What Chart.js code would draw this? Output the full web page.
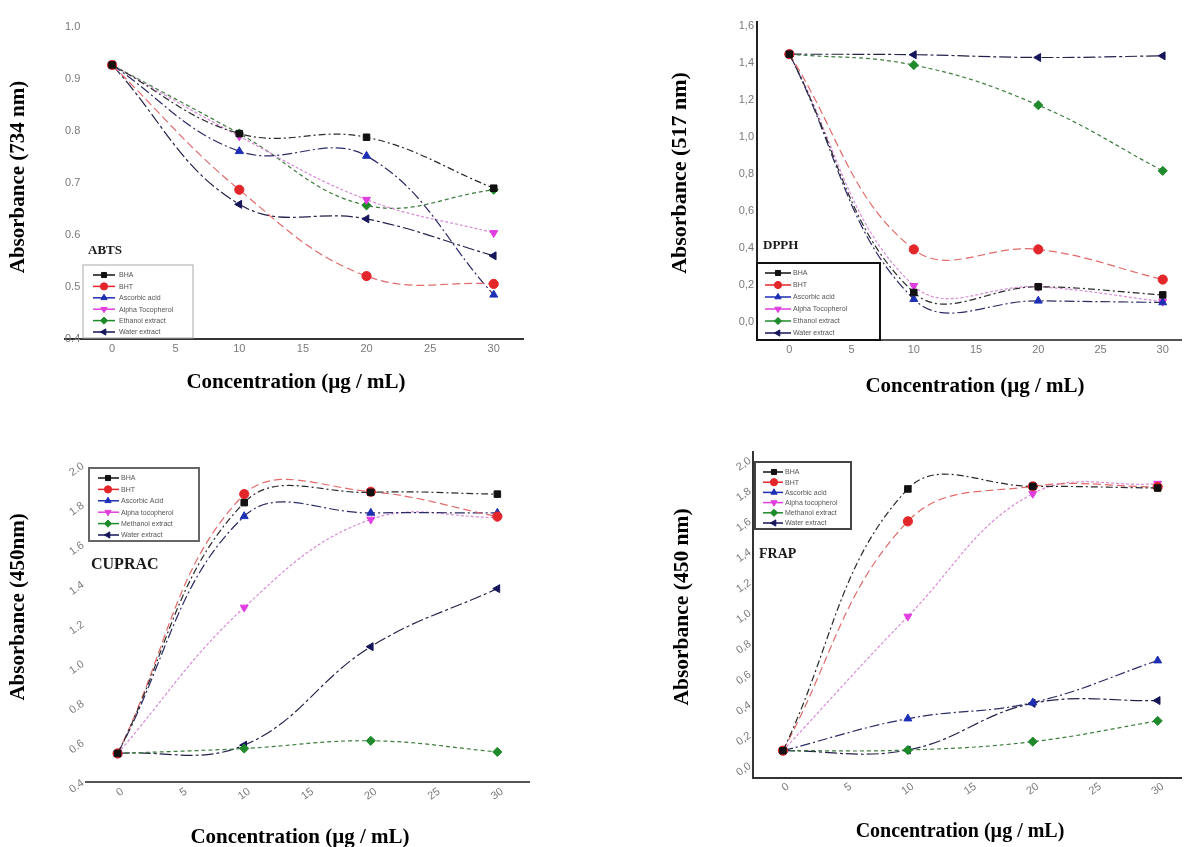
<!DOCTYPE html>
<html>
<head>
<meta charset="utf-8">
<script src="https://cdn.jsdelivr.net/npm/chart.js@4.4.0/dist/chart.umd.min.js"></script>
<style>
body{margin:0;background:#fff;width:1187px;height:847px;position:relative;overflow:hidden}
canvas{position:absolute}
</style>
</head>
<body>
<canvas id="abts" width="593" height="423" style="left:0;top:0"></canvas>
<canvas id="dpph" width="594" height="423" style="left:593px;top:0"></canvas>
<canvas id="cuprac" width="593" height="424" style="left:0;top:423px"></canvas>
<canvas id="frap" width="594" height="424" style="left:593px;top:423px"></canvas>
<script>
// concentrations (µg / mL) and x tick labels
var conc = [0, 10, 20, 30];
var xTicks = [0, 5, 10, 15, 20, 25, 30];

// ABTS
var abtsNames = ['BHA', 'BHT', 'Ascorbic acid', 'Alpha Tocopherol', 'Ethanol extract', 'Water extract'];
var abtsBha = [0.927, 0.795, 0.788, 0.690];
var abtsBht = [0.927, 0.687, 0.521, 0.506];
var abtsAscorbic = [0.927, 0.761, 0.752, 0.485];
var abtsAlpha = [0.927, 0.790, 0.668, 0.604];
var abtsExtract = [0.927, 0.795, 0.657, 0.687];
var abtsWater = [0.927, 0.659, 0.631, 0.560];
var abtsYTicks = [0.4, 0.5, 0.6, 0.7, 0.8, 0.9, 1.0];

// DPPH
var dpphNames = ['BHA', 'BHT', 'Ascorbic acid', 'Alpha Tocopherol', 'Ethanol extract', 'Water extract'];
var dpphBha = [1.446, 0.157, 0.188, 0.144];
var dpphBht = [1.446, 0.390, 0.390, 0.227];
var dpphAscorbic = [1.446, 0.121, 0.112, 0.103];
var dpphAlpha = [1.446, 0.193, 0.188, 0.108];
var dpphExtract = [1.446, 1.387, 1.170, 0.815];
var dpphWater = [1.446, 1.443, 1.428, 1.437];
var dpphYTicks = [0, 0.2, 0.4, 0.6, 0.8, 1.0, 1.2, 1.4, 1.6];

// CUPRAC
var cupracNames = ['BHA', 'BHT', 'Ascorbic Acid', 'Alpha tocopherol', 'Methanol extract', 'Water extract'];
var cupracBha = [0.544, 1.810, 1.862, 1.853];
var cupracBht = [0.544, 1.853, 1.865, 1.740];
var cupracAscorbic = [0.544, 1.741, 1.758, 1.758];
var cupracAlpha = [0.544, 1.281, 1.725, 1.736];
var cupracExtract = [0.544, 0.569, 0.608, 0.552];
var cupracWater = [0.544, 0.586, 1.083, 1.376];
var cupracYTicks = [0.4, 0.6, 0.8, 1.0, 1.2, 1.4, 1.6, 1.8, 2.0];

// FRAP
var frapNames = ['BHA', 'BHT', 'Ascorbic acid', 'Alpha tocopherol', 'Methanol extract', 'Water extract'];
var frapBha = [0.094, 1.808, 1.825, 1.814];
var frapBht = [0.094, 1.596, 1.825, 1.821];
var frapAscorbic = [0.094, 0.304, 0.409, 0.684];
var frapAlpha = [0.094, 0.973, 1.777, 1.843];
var frapExtract = [0.094, 0.098, 0.153, 0.289];
var frapWater = [0.094, 0.098, 0.404, 0.422];
var frapYTicks = [0, 0.2, 0.4, 0.6, 0.8, 1.0, 1.2, 1.4, 1.6, 1.8, 2.0];

// marker / line look of the six series, same order in every panel
var looks = [
  {shape: 'rect', rot: 0, fill: '#111111', line: '#2a2a2a', dash: [7, 3, 2, 3]},
  {shape: 'circle', rot: 0, fill: '#e3262a', line: '#e26a6a', dash: [8, 4]},
  {shape: 'triangle', rot: 0, fill: '#1d2fb5', line: '#2b2b66', dash: [10, 3, 2, 3]},
  {shape: 'triangle', rot: 180, fill: '#e03ee0', line: '#d88ad8', dash: [3, 2]},
  {shape: 'rectRot', rot: 0, fill: '#1f8a2b', line: '#3d7d3d', dash: [4, 3]},
  {shape: 'triangle', rot: -90, fill: '#15155a', line: '#22224a', dash: [12, 3, 3, 3]}
];

function makeSets(names, series) {
  return series.map(function (vals, i) {
    var lk = looks[i];
    return {
      label: names[i],
      data: conc.map(function (c, j) { return {x: c, y: vals[j]}; }),
      borderColor: lk.line,
      borderWidth: 1.2,
      borderDash: lk.dash,
      tension: 0.4,
      fill: false,
      pointStyle: lk.shape,
      pointRotation: lk.rot,
      pointRadius: 4.6,
      pointBackgroundColor: lk.fill,
      pointBorderColor: lk.fill,
      pointBorderWidth: 1
    };
  });
}

// draws panel name, axis titles and the boxed legend
var panelDecor = {
  id: 'panelDecor',
  afterDatasetsDraw: function (chart, args, o) {
    var ctx = chart.ctx;
    ctx.save();
    ctx.setLineDash([]);
    ctx.fillStyle = '#1a1a1a';
    ctx.textAlign = 'left';
    ctx.textBaseline = 'alphabetic';
    ctx.font = 'bold ' + o.nameSize + 'px "Liberation Serif"';
    ctx.fillText(o.name, o.nameX, o.nameY);

    ctx.fillStyle = '#000';
    ctx.textAlign = 'center';
    ctx.textBaseline = 'middle';
    ctx.font = 'bold ' + o.xTitleSize + 'px "Liberation Serif"';
    ctx.fillText('Concentration (µg / mL)', o.xTitleX, o.xTitleY);
    ctx.save();
    ctx.translate(o.yTitleX, o.yTitleY);
    ctx.rotate(-Math.PI / 2);
    ctx.font = 'bold ' + o.yTitleSize + 'px "Liberation Serif"';
    ctx.fillText(o.yTitle, 0, 0);
    ctx.restore();

    var lg = o.legend;
    ctx.fillStyle = '#fff';
    ctx.fillRect(lg.x, lg.y, lg.w, lg.h);
    ctx.lineWidth = lg.border;
    ctx.strokeStyle = lg.borderColor;
    ctx.strokeRect(lg.x, lg.y, lg.w, lg.h);
    ctx.textAlign = 'left';
    ctx.font = '7px "Liberation Sans"';
    chart.data.datasets.forEach(function (ds, i) {
      var y = lg.y + lg.first + i * lg.step;
      ctx.strokeStyle = ds.pointBackgroundColor;
      ctx.lineWidth = 1.5;
      ctx.beginPath();
      ctx.moveTo(lg.x + lg.lineFrom, y);
      ctx.lineTo(lg.x + lg.lineTo, y);
      ctx.stroke();
      ctx.fillStyle = ds.pointBackgroundColor;
      ctx.lineWidth = 1;
      Chart.helpers.drawPoint(ctx, {pointStyle: ds.pointStyle, rotation: ds.pointRotation, radius: 3.6, borderWidth: 1}, lg.x + lg.mark, y);
      ctx.fillStyle = '#555';
      ctx.fillText(ds.label, lg.x + lg.text, y + 0.5);
    });
    ctx.restore();
  }
};

function fmt(comma) {
  return function (v) {
    var s = Number(v).toFixed(1);
    return comma ? s.replace('.', ',') : s;
  };
}

function build(id, names, series, p) {
  var tickFont = {family: 'Liberation Sans', size: 11};
  return new Chart(document.getElementById(id), {
    type: 'line',
    data: {datasets: makeSets(names, series)},
    plugins: [panelDecor],
    options: {
      responsive: false,
      animation: false,
      layout: {padding: {top: p.padTop, right: p.padRight, left: 0, bottom: 0}},
      plugins: {
        legend: {display: false},
        tooltip: {enabled: false},
        panelDecor: p.decor
      },
      scales: {
        x: {
          type: 'linear',
          min: p.xMin, max: p.xMax,
          afterBuildTicks: function (s) { s.ticks = xTicks.map(function (v) { return {value: v}; }); },
          afterFit: function (s) { s.height = p.xH; s.paddingLeft = 0; s.paddingRight = 0; },
          grid: {display: false, drawTicks: false},
          border: {display: true, color: p.xBorder, width: 2},
          ticks: {
            font: tickFont, color: '#7a7a7a', padding: p.xPad,
            minRotation: p.rot, maxRotation: p.rot, labelOffset: p.rot ? 5 : 0,
            callback: function (v) { return String(v); }
          }
        },
        y: {
          min: p.yMin, max: p.yMax,
          afterBuildTicks: function (s) { s.ticks = p.yTicks.map(function (v) { return {value: v}; }); },
          afterFit: function (s) { s.width = p.yW; s.paddingTop = 0; s.paddingBottom = 0; },
          grid: {display: false, drawTicks: false},
          border: {display: !!p.yBorder, color: p.yBorder || '#000', width: 2},
          ticks: {
            font: tickFont, color: '#7a7a7a', padding: p.yPad, mirror: !!p.mirror,
            minRotation: p.rot, maxRotation: p.rot,
            callback: fmt(p.comma)
          }
        }
      }
    }
  });
}

build('abts', abtsNames, [abtsBha, abtsBht, abtsAscorbic, abtsAlpha, abtsExtract, abtsWater], {
  padTop: 27, padRight: 70, yW: 65, xH: 84,
  xMin: -3.7, xMax: 32.3, yMin: 0.4, yMax: 1.0, yTicks: abtsYTicks,
  xBorder: '#333', yBorder: null, mirror: true, yPad: 0, xPad: 3, rot: 0, comma: false,
  decor: {
    name: 'ABTS', nameX: 88, nameY: 254, nameSize: 13,
    yTitle: 'Absorbance (734 nm)', yTitleX: 19, yTitleY: 177, yTitleSize: 21,
    xTitleX: 296, xTitleY: 383, xTitleSize: 21,
    legend: {x: 83, y: 265, w: 110, h: 73, first: 10, step: 11.4, lineFrom: 10, lineTo: 32, mark: 21, text: 36, border: 1, borderColor: '#aaaaaa'}
  }
});

build('dpph', dpphNames, [dpphBha, dpphBht, dpphAscorbic, dpphAlpha, dpphExtract, dpphWater], {
  padTop: 22, padRight: 0, yW: 164, xH: 83,
  xMin: -2.6, xMax: 31.5, yMin: -0.1, yMax: 1.62, yTicks: dpphYTicks,
  xBorder: '#555', yBorder: '#222', yPad: 3, xPad: 3, rot: 0, comma: true,
  decor: {
    name: 'DPPH', nameX: 170, nameY: 249, nameSize: 13,
    yTitle: 'Absorbance (517 nm)', yTitleX: 87, yTitleY: 173, yTitleSize: 22,
    xTitleX: 382, xTitleY: 387, xTitleSize: 21,
    legend: {x: 164, y: 263, w: 123, h: 77, first: 10, step: 12, lineFrom: 8, lineTo: 34, mark: 21, text: 36, border: 2, borderColor: '#111'}
  }
});

build('cuprac', cupracNames, [cupracBha, cupracBht, cupracAscorbic, cupracAlpha, cupracExtract, cupracWater], {
  padTop: 42, padRight: 64, yW: 86, xH: 65,
  xMin: -2.5, xMax: 32.5, yMin: 0.4, yMax: 2.0, yTicks: cupracYTicks,
  xBorder: '#555', yBorder: null, yPad: 3, xPad: 3, rot: 35, comma: false,
  decor: {
    name: 'CUPRAC', nameX: 91, nameY: 146, nameSize: 16,
    yTitle: 'Absorbance (450nm)', yTitleX: 19, yTitleY: 184, yTitleSize: 21,
    xTitleX: 300, xTitleY: 415, xTitleSize: 21,
    legend: {x: 89, y: 45, w: 110, h: 73, first: 10, step: 11.4, lineFrom: 9, lineTo: 30, mark: 19, text: 32, border: 2, borderColor: '#666'}
  }
});

build('frap', frapNames, [frapBha, frapBht, frapAscorbic, frapAlpha, frapExtract, frapWater], {
  padTop: 29, padRight: 0, yW: 160, xH: 69,
  xMin: -2.4, xMax: 31.9, yMin: -0.085, yMax: 2.05, yTicks: frapYTicks,
  xBorder: '#333', yBorder: '#333', yPad: 3, xPad: 2, rot: 35, comma: true,
  decor: {
    name: 'FRAP', nameX: 166, nameY: 135, nameSize: 14,
    yTitle: 'Absorbance (450 nm)', yTitleX: 89, yTitleY: 184, yTitleSize: 21.5,
    xTitleX: 367, xTitleY: 409, xTitleSize: 20,
    legend: {x: 162, y: 39, w: 96, h: 67, first: 10, step: 10.2, lineFrom: 8, lineTo: 28, mark: 19, text: 30, border: 2, borderColor: '#444'}
  }
});
</script>
</body>
</html>
